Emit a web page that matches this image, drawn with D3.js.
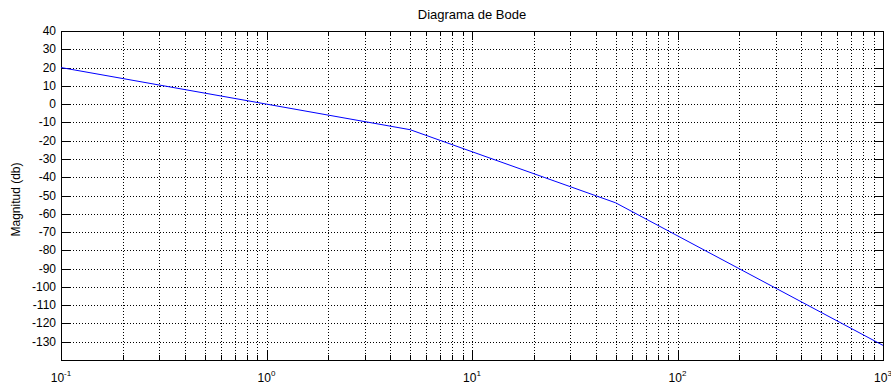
<!DOCTYPE html>
<html>
<head>
<meta charset="utf-8">
<script src="https://cdn.jsdelivr.net/npm/d3@7"></script>
<style>
  body { margin: 0; background: #fff; }
  svg { display: block; font-family: "Liberation Sans", Arial, sans-serif; }
  .grid line { stroke: #000; stroke-dasharray: 1,2; shape-rendering: crispEdges; }
  .grid path { display: none; }
  .ax path, .ax line { stroke: #000; shape-rendering: crispEdges; }
  .ax text { display: none; }
</style>
</head>
<body>
<svg id="chart" width="891" height="387"></svg>
<script>
// curve points (frequency rad/s, magnitude dB)
const freq = [0.1, 1, 5, 50, 1000];
const magDb = [20, 0, -14, -54, -132];

const yTicks = d3.range(-130, 41, 10);
const xMajor = [0.1, 1, 10, 100, 1000];
const xExp = ["-1", "0", "1", "2", "3"];
const title = "Diagrama de Bode";
const yLabel = "Magnitud (db)";

const svg = d3.select('#chart');
const mLeft = 61, mRight = 883, mTop = 31, mBottom = 360;

const x = d3.scaleLog().domain([0.1, 1000]).range([mLeft, mRight]);
const y = d3.scaleLinear().domain([-140, 40]).range([mBottom, mTop]);

// minor ticks 2..9 every decade
let xMinor = [];
for (let e = -1; e < 3; e++) {
  for (let k = 2; k <= 9; k++) xMinor.push(k * Math.pow(10, e));
}
const xAll = xMajor.concat(xMinor);

// dotted grid
svg.append('g').attr('class', 'grid')
  .attr('transform', `translate(0,${mBottom})`)
  .call(d3.axisBottom(x).tickValues(xAll).tickSize(-(mBottom - mTop)).tickFormat(''));
svg.append('g').attr('class', 'grid')
  .attr('transform', `translate(${mLeft},0)`)
  .call(d3.axisLeft(y).tickValues(yTicks).tickSize(-(mRight - mLeft)).tickFormat(''));

// tick marks, inside, on all four sides
const tickIn = (g, axis) => g.attr('class', 'ax').call(axis.tickSizeOuter(0));
tickIn(svg.append('g').attr('transform', `translate(0,${mBottom})`),
  d3.axisTop(x).tickValues(xMajor).tickSize(9).tickFormat(''));
tickIn(svg.append('g').attr('transform', `translate(0,${mBottom})`),
  d3.axisTop(x).tickValues(xMinor).tickSize(5).tickFormat(''));
tickIn(svg.append('g').attr('transform', `translate(0,${mTop})`),
  d3.axisBottom(x).tickValues(xMajor).tickSize(9).tickFormat(''));
tickIn(svg.append('g').attr('transform', `translate(0,${mTop})`),
  d3.axisBottom(x).tickValues(xMinor).tickSize(5).tickFormat(''));
tickIn(svg.append('g').attr('transform', `translate(${mLeft},0)`),
  d3.axisRight(y).tickValues(yTicks.concat([40])).tickSize(9).tickFormat(''));
tickIn(svg.append('g').attr('transform', `translate(${mRight},0)`),
  d3.axisLeft(y).tickValues(yTicks).tickSize(9).tickFormat(''));

// box
svg.append('rect')
  .attr('x', mLeft + 0.5).attr('y', mTop + 0.5)
  .attr('width', mRight - mLeft).attr('height', mBottom - mTop)
  .attr('fill', 'none').attr('stroke', '#000').attr('shape-rendering', 'crispEdges');

// y tick labels
svg.append('g').selectAll('text').data(yTicks).join('text')
  .attr('x', mLeft - 5)
  .attr('y', d => y(d) + 4)
  .attr('text-anchor', 'end')
  .attr('font-size', 12)
  .text(d => d);

// x tick labels 10^n
const xl = svg.append('g').selectAll('text').data(xMajor).join('text')
  .attr('x', d => x(d))
  .attr('y', 382)
  .attr('text-anchor', 'middle')
  .attr('font-size', 12);
xl.append('tspan').text('10');
xl.append('tspan').attr('dy', -6).attr('font-size', 8).text((d, i) => xExp[i]);

// magnitude curve
const line = d3.line().x(d => x(d[0])).y(d => y(d[1]));
svg.append('path')
  .datum(freq.map((f, i) => [f, magDb[i]]))
  .attr('d', line)
  .attr('fill', 'none')
  .attr('stroke', '#0000ff')
  .attr('stroke-width', 1);

// title and y label
svg.append('text')
  .attr('x', (mLeft + mRight) / 2).attr('y', 19)
  .attr('text-anchor', 'middle').attr('font-size', 13)
  .text(title);
svg.append('text')
  .attr('transform', `translate(20,${(mTop + mBottom) / 2 + 4}) rotate(-90)`)
  .attr('text-anchor', 'middle').attr('font-size', 12)
  .text(yLabel);
</script>
</body>
</html>
